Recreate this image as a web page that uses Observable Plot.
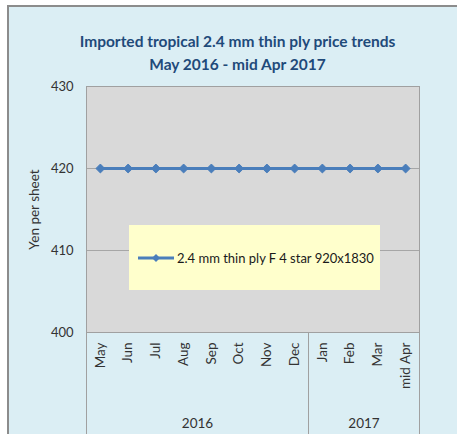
<!DOCTYPE html>
<html>
<head>
<meta charset="utf-8">
<script src="https://cdn.jsdelivr.net/npm/d3@7"></script>
<script src="https://cdn.jsdelivr.net/npm/@observablehq/plot@0.6"></script>
<style>
  html, body { margin: 0; padding: 0; background: #ffffff; width: 457px; height: 434px; overflow: hidden; }
  #panel { position: absolute; left: 7px; top: 5px; width: 452px; height: 431px; background: #dbeef4;
           border-top: 2px solid #8c8c8c; border-left: 2px solid #8c8c8c; }
  #title { position: absolute; left: 9px; top: 30px; width: 457px; text-align: center;
           font-family: Lato, "Open Sans", sans-serif; font-weight: bold; font-size: 15.5px; line-height: 23px;
           color: #1f4a7a; }
  #chart { position: absolute; left: 0; top: 70px; }
  #legend { position: absolute; left: 129px; top: 225px; width: 251px; height: 65px; background: #ffffcc;
            display: flex; align-items: center; white-space: nowrap;
            font-family: Lato, "Open Sans", sans-serif; font-size: 13px; color: #1a1a1a; }
  #legend svg { margin-left: 8px; margin-right: 2px; flex: none; }
</style>
</head>
<body>
<div id="panel"></div>
<div id="title"><div>Imported tropical 2.4 mm thin ply price trends</div><div>May 2016 - mid Apr 2017</div></div>
<div id="chart"></div>
<div id="legend"></div>
<script>
const months = ["May","Jun","Jul","Aug","Sep","Oct","Nov","Dec","Jan","Feb","Mar","mid Apr"];
const prices = [420,420,420,420,420,420,420,420,420,420,420,420];
const years = ["2016","2017"];
const monthsPerYear = [8,4];
const yTicks = [400,410,420,430];
const gridTicks = [410,420];
const seriesName = "2.4 mm thin ply F 4 star 920x1830";
const yLabel = "Yen per sheet";
const lineColor = "#4a7ebb";

const data = months.map((m, i) => ({i, month: m, price: prices[i]}));
// year group boundaries and centres in index space
const boundaries = [-0.5];
const centers = [];
let acc = 0;
monthsPerYear.forEach(n => { centers.push(acc + (n - 1) / 2); acc += n; boundaries.push(acc - 0.5); });
const yearData = years.map((y, k) => ({year: y, x: centers[k]}));

const chart = Plot.plot({
  width: 457, height: 364,
  marginTop: 16, marginBottom: 102, marginLeft: 86, marginRight: 38,
  style: {background: "transparent", fontFamily: "Lato, 'Open Sans', sans-serif", fontSize: "13px", color: "#333333"},
  x: {type: "linear", domain: [-0.5, months.length - 0.5]},
  y: {domain: [400, 430]},
  marks: [
    Plot.frame({fill: "#d9d9d9"}),
    Plot.gridY(gridTicks, {stroke: "#a6a6a6", strokeOpacity: 1}),
    Plot.frame({stroke: "#a0a0a0"}),
    Plot.axisY(yTicks, {tickSize: 0, tickPadding: 13, fontSize: 13, label: null}),
    Plot.axisY(yTicks, {tickSize: 0, text: null, ticks: [], label: yLabel, labelAnchor: "center", labelArrow: "none", labelOffset: 57, fontSize: 13.5}),
    Plot.axisX(d3.range(months.length), {tickFormat: i => months[i], tickRotate: -90, tickSize: 0, tickPadding: 10, fontSize: 13.5, label: null}),
    Plot.ruleX(boundaries, {y1: 400, y2: 400, insetBottom: -102, stroke: "#a0a0a0"}),
    Plot.text(yearData, {x: "x", y: 400, dy: 91, text: "year", fontSize: 13.5, fill: "#333333"}),
    Plot.line(data, {x: "i", y: "price", stroke: lineColor, strokeWidth: 3}),
    Plot.dot(data, {x: "i", y: "price", symbol: "diamond2", r: 4, fill: lineColor, stroke: lineColor, strokeWidth: 1})
  ]
});
document.getElementById("chart").appendChild(chart);

document.getElementById("legend").innerHTML =
  `<svg width="38" height="12"><line x1="1" y1="6" x2="37" y2="6" stroke="${lineColor}" stroke-width="3"/>` +
  `<path d="M19,2 L23,6 L19,10 L15,6 Z" fill="${lineColor}"/></svg><span>${seriesName}</span>`;
</script>
</body>
</html>
